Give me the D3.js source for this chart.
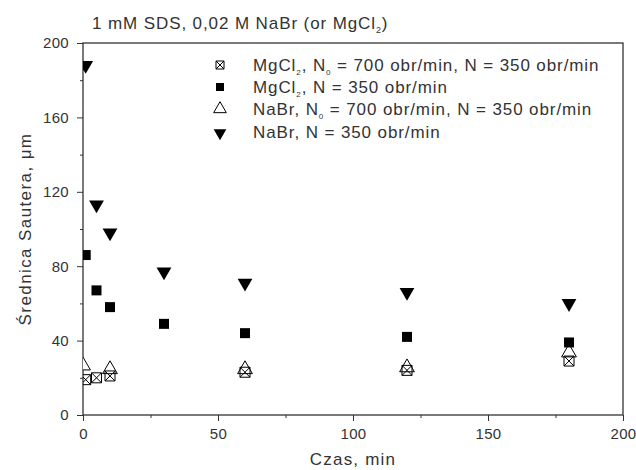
<!DOCTYPE html>
<html>
<head>
<meta charset="utf-8">
<script src="https://cdn.jsdelivr.net/npm/d3@7"></script>
<style>
    body { margin: 0; background: #fff; }
    text { font-family: "Liberation Sans", Arial, sans-serif; fill: #333; }
</style>
</head>
<body>
<div id="chart"></div>
<script>
// data
let xTicks = [0, 50, 100, 150, 200];
let yTicks = [0, 40, 80, 120, 160, 200];

let mgcl700Time = [1, 5, 10, 60, 120, 180];
let mgcl700Vals = [19, 20, 21, 23, 24, 29];

let mgcl350Time = [1, 5, 10, 30, 60, 120, 180];
let mgcl350Vals = [86, 67, 58, 49, 44, 42, 39];

let nabr700Time = [0, 10, 60, 120, 180];
let nabr700Vals = [26, 24, 24, 25, 33];

let nabr350Time = [1, 5, 10, 30, 60, 120, 180];
let nabr350Vals = [188, 113, 98, 77, 71, 66, 60];

let margin = {top: 43, right: 13, bottom: 55, left: 83};
let width = 636 - margin.left - margin.right;
let height = 470 - margin.top - margin.bottom;

let svg = d3.select("#chart").append("svg")
    .attr("width", 636)
    .attr("height", 470);

let g = svg.append("g")
    .attr("transform", `translate(${margin.left}, ${margin.top})`);

let x = d3.scaleLinear().domain([0, 200]).range([0, width]);
let y = d3.scaleLinear().domain([0, 200]).range([height, 0]);

// clip marks to the frame
g.append("clipPath").attr("id", "clip")
    .append("rect").attr("width", width).attr("height", height);

// minor ticks
let xAxisMinor = d3.axisBottom(x).tickValues(d3.range(25, 200, 50)).tickSize(3).tickFormat("");
let yAxisMinor = d3.axisLeft(y).tickValues(d3.range(20, 200, 40)).tickSize(3).tickFormat("");
g.append("g").attr("transform", `translate(0, ${height})`).call(xAxisMinor);
g.append("g").call(yAxisMinor);

let xAxis = d3.axisBottom(x).tickValues(xTicks).tickSize(6).tickPadding(7);
let yAxis = d3.axisLeft(y).tickValues(yTicks).tickSize(6).tickPadding(8);

g.append("g").attr("class", "x-axis").attr("transform", `translate(0, ${height})`).call(xAxis);
g.append("g").attr("class", "y-axis").call(yAxis);

g.selectAll(".domain").remove();
g.selectAll(".tick line").attr("stroke", "#333");
g.selectAll(".tick text").style("font-size", "15px").style("letter-spacing", "0.3px").attr("fill", "#333");

// frame
g.append("rect")
    .attr("width", width).attr("height", height)
    .attr("fill", "none").attr("stroke", "#333").attr("stroke-width", 1.3);

// symbols
let squareSym = d3.symbol().type(d3.symbolSquare).size(100);
let triUp = d3.symbol().type(d3.symbolTriangle).size(95);
let legendSq = d3.symbol().type(d3.symbolSquare).size(64);
let legendTri = d3.symbol().type(d3.symbolTriangle).size(70);

function boxedX(s) {
    let h = s / 2;
    return `M${-h},${-h}H${h}V${h}H${-h}Z M${-h},${-h}L${h},${h} M${h},${-h}L${-h},${h}`;
}

let marks = g.append("g").attr("clip-path", "url(#clip)");

function pairs(t, v) { return t.map((d, i) => ({t: d, v: v[i]})); }

// open triangles
marks.selectAll(".nabr700").data(pairs(nabr700Time, nabr700Vals)).enter()
    .append("path").attr("class", "nabr700")
    .attr("d", triUp)
    .attr("transform", d => `translate(${x(d.t)}, ${y(d.v) - 1})`)
    .attr("fill", "white").attr("stroke", "#000").attr("stroke-width", 1);

// boxed X
marks.selectAll(".mgcl700").data(pairs(mgcl700Time, mgcl700Vals)).enter()
    .append("path").attr("class", "mgcl700")
    .attr("d", boxedX(10))
    .attr("transform", d => `translate(${x(d.t)}, ${y(d.v)})`)
    .attr("fill", "none").attr("stroke", "#000").attr("stroke-width", 1);

// filled squares
marks.selectAll(".mgcl350").data(pairs(mgcl350Time, mgcl350Vals)).enter()
    .append("path").attr("class", "mgcl350")
    .attr("d", squareSym)
    .attr("transform", d => `translate(${x(d.t)}, ${y(d.v)})`)
    .attr("fill", "#000");

// filled down triangles
marks.selectAll(".nabr350").data(pairs(nabr350Time, nabr350Vals)).enter()
    .append("path").attr("class", "nabr350")
    .attr("d", triUp)
    .attr("transform", d => `translate(${x(d.t)}, ${y(d.v)}) rotate(180)`)
    .attr("fill", "#000");

// title
let title = svg.append("text").attr("x", 92).attr("y", 29)
    .style("font-size", "17px").style("letter-spacing", "0.9px");
title.append("tspan").text("1 mM SDS, 0,02 M NaBr (or MgCl");
title.append("tspan").text("2").style("font-size", "9px").attr("dy", 4);
title.append("tspan").text(")").attr("dy", -4);

// legend
let legendRows = [
    {parts: [["MgCl", 0], ["2", 1], [", N", 0], ["0", 1], [" = 700 obr/min, N = 350 obr/min", 0]], sym: "boxx"},
    {parts: [["MgCl", 0], ["2", 1], [", N = 350 obr/min", 0]], sym: "sq"},
    {parts: [["NaBr, N", 0], ["0", 1], [" = 700 obr/min, N = 350 obr/min", 0]], sym: "tri"},
    {parts: [["NaBr, N = 350 obr/min", 0]], sym: "tridown"}
];
let legendY = [65, 87, 109, 132];

let legend = svg.append("g").attr("class", "legend");
legendRows.forEach((row, i) => {
    let ly = legendY[i];
    let m = legend.append("path").attr("transform", `translate(220, ${ly})`);
    if (row.sym === "boxx") m.attr("d", boxedX(8)).attr("fill", "none").attr("stroke", "#000");
    if (row.sym === "sq") m.attr("d", legendSq).attr("fill", "#000");
    if (row.sym === "tri") m.attr("d", legendTri).attr("fill", "none").attr("stroke", "#000");
    if (row.sym === "tridown") m.attr("d", legendTri).attr("fill", "#000")
        .attr("transform", `translate(220, ${ly + 1}) rotate(180)`);

    let t = legend.append("text").attr("x", 253).attr("y", ly + 6)
        .style("font-size", "17px").style("letter-spacing", "0.9px");
    let shifted = false;
    row.parts.forEach(p => {
        let ts = t.append("tspan").text(p[0]);
        if (p[1] === 1) { ts.style("font-size", "8px").attr("dy", 4); shifted = true; }
        else if (shifted) { ts.attr("dy", -4); shifted = false; }
    });
});

// axis titles
svg.append("text")
    .attr("x", margin.left + width / 2).attr("y", 465)
    .attr("text-anchor", "middle").style("font-size", "17px").style("letter-spacing", "1.2px")
    .text("Czas, min");

svg.append("text")
    .attr("transform", `translate(31, ${margin.top + height / 2}) rotate(-90)`)
    .attr("text-anchor", "middle").style("font-size", "17px").style("letter-spacing", "1.4px")
    .text("Średnica Sautera, μm");
</script>
</body>
</html>
